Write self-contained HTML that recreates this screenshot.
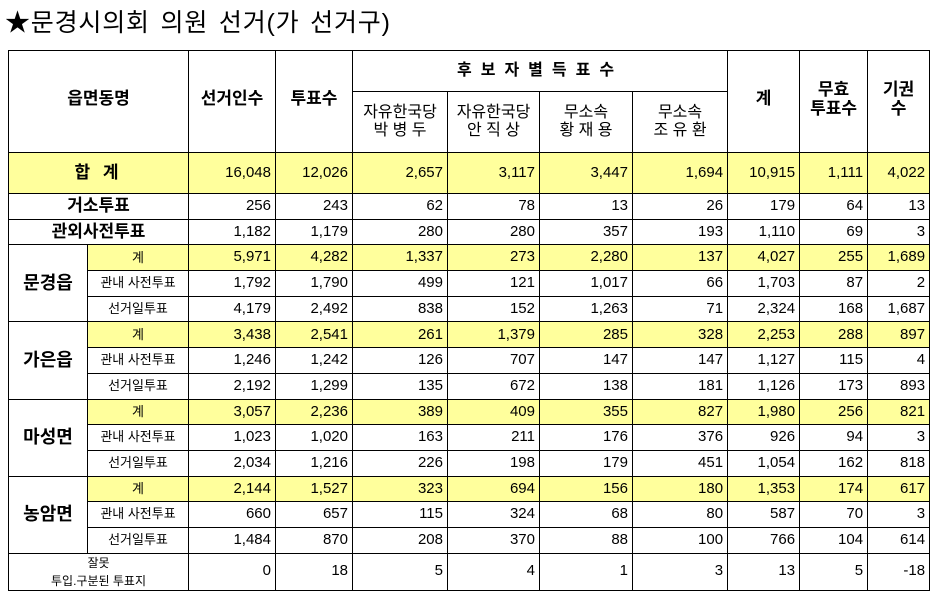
<!DOCTYPE html>
<html><head><meta charset="utf-8">
<style>
body{margin:0;width:939px;height:604px;background:#fff;position:relative;overflow:hidden;font-family:"Liberation Sans","Noto Sans CJK KR",sans-serif;}
#title{position:absolute;left:5px;top:3px;font-size:25px;letter-spacing:0.8px;word-spacing:3px;white-space:nowrap;font-family:"Liberation Sans","Noto Sans CJK KR",sans-serif;}
table{position:absolute;left:8px;top:50px;border-collapse:collapse;table-layout:fixed;width:921px;border:1.5px solid #000;}
td{border:1px solid #000;padding:0 4px;font-size:15px;text-align:right;white-space:nowrap;overflow:hidden;line-height:1.1;}
td.c{text-align:center;}
td.h{text-align:center;font-size:17px;font-weight:bold;}
td.s{text-align:center;font-size:13px;}
.y td.v,.y td.s{background:#ffff9c;}
tr.r td{height:24.7px;}
</style></head><body>
<div id="title">★문경시의회 의원 선거(가 선거구)</div>
<table id="t">
<colgroup><col style="width:79px"><col style="width:101px"><col style="width:87px"><col style="width:77px"><col style="width:95px"><col style="width:92px"><col style="width:93px"><col style="width:95px"><col style="width:72px"><col style="width:68px"><col style="width:62px"></colgroup>
<tr style="height:41px">
<td class="h" colspan="2" rowspan="2" style="padding-bottom:4px">읍면동명</td>
<td class="h" rowspan="2" style="padding-bottom:4px">선거인수</td>
<td class="h" rowspan="2" style="padding-bottom:4px">투표수</td>
<td class="h" colspan="4" style="letter-spacing:9px;font-size:16px">후보자별득표수</td>
<td class="h" rowspan="2" style="padding-bottom:4px">계</td>
<td class="h" rowspan="2" style="padding-bottom:4px">무효<br>투표수</td>
<td class="h" rowspan="2" style="padding-bottom:4px">기권<br>수</td>
</tr>
<tr style="height:61px">
<td class="c" style="font-size:16px">자유한국당<br>박 병 두</td>
<td class="c" style="font-size:16px">자유한국당<br>안 직 상</td>
<td class="c" style="font-size:16px">무소속<br>황 재 용</td>
<td class="c" style="font-size:16px">무소속<br>조 유 환</td>
</tr>
</table>
<script>
const rowLabels=["합 계","거소투표","관외사전투표","계","관내 사전투표","선거일투표","계","관내 사전투표","선거일투표","계","관내 사전투표","선거일투표","계","관내 사전투표","선거일투표","잘못\n투입.구분된 투표지"];
const groups=["문경읍","가은읍","마성면","농암면"];
const electors=["16,048","256","1,182","5,971","1,792","4,179","3,438","1,246","2,192","3,057","1,023","2,034","2,144","660","1,484","0"];
const votes=["12,026","243","1,179","4,282","1,790","2,492","2,541","1,242","1,299","2,236","1,020","1,216","1,527","657","870","18"];
const cand1=["2,657","62","280","1,337","499","838","261","126","135","389","163","226","323","115","208","5"];
const cand2=["3,117","78","280","273","121","152","1,379","707","672","409","211","198","694","324","370","4"];
const cand3=["3,447","13","357","2,280","1,017","1,263","285","147","138","355","176","179","156","68","88","1"];
const cand4=["1,694","26","193","137","66","71","328","147","181","827","376","451","180","80","100","3"];
const totals=["10,915","179","1,110","4,027","1,703","2,324","2,253","1,127","1,126","1,980","926","1,054","1,353","587","766","13"];
const invalid=["1,111","64","69","255","87","168","288","115","173","256","94","162","174","70","104","5"];
const abstain=["4,022","13","3","1,689","2","1,687","897","4","893","821","3","818","617","3","614","-18"];
const t=document.getElementById('t');
for(let i=0;i<rowLabels.length;i++){
  const tr=document.createElement('tr');
  
  
  const yellow=(i===0)||(i>=3&&i<=14&&(i-3)%3===0);
  if(yellow)tr.className='y';
  if(i===0)tr.style.height='41px';
  else if(i===15)tr.style.height='36px';
  else tr.className+=' r';
  if(i<3||i===15){
    const td=document.createElement('td');
    
    
    td.colSpan=2;
    td.className=i===15?'c':'h';
    if(i===15){td.style.fontSize='12px';td.style.lineHeight='18px';}
    if(i===0)td.style.letterSpacing='4px';
    td.innerText=rowLabels[i];
    if(i===0)td.style.background='#ffff9c';
    tr.appendChild(td);
  } else {
    if((i-3)%3===0){
      const g=document.createElement('td');
      
      
      g.rowSpan=3;g.className='h';g.style.fontSize='18px';
      g.textContent=groups[(i-3)/3];
      tr.appendChild(g);
    }
    const td=document.createElement('td');
    
    
    td.className='s';
    td.textContent=rowLabels[i];
    tr.appendChild(td);
  }
  [electors,votes,cand1,cand2,cand3,cand4,totals,invalid,abstain].forEach(arr=>{
    const td=document.createElement('td');
    
    
    td.className='v';
    if(i===0)td.style.background='#ffff9c';
    td.textContent=arr[i];
    tr.appendChild(td);
  });
  t.appendChild(tr);
}
</script>
</body></html>
